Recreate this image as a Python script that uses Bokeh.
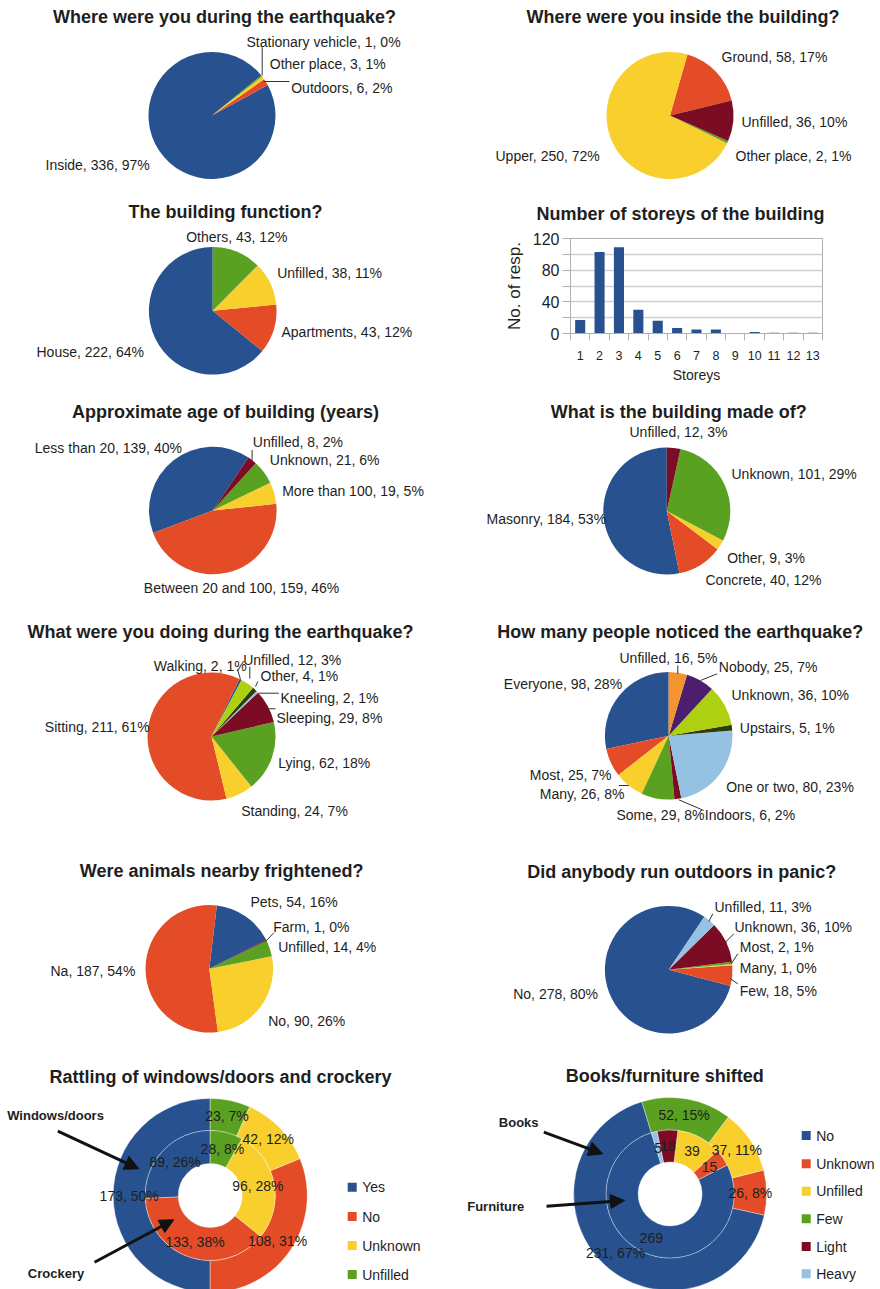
import math
from bokeh.plotting import figure
from bokeh.layouts import column, row
from bokeh.models import Range1d, FixedTicker, Arrow, NormalHead, ColumnDataSource
from bokeh.core.properties import value
from bokeh.embed import file_html
from bokeh.resources import INLINE

# ---------------- DATA ----------------
where_cats = ["Inside", "Outdoors", "Other place", "Stationary vehicle"]
where_vals = [336, 6, 3, 1]

inside_cats = ["Ground", "Upper", "Other place", "Unfilled"]
inside_vals = [58, 250, 2, 36]

function_cats = ["House", "Apartments", "Unfilled", "Others"]
function_vals = [222, 43, 38, 43]

storeys = ["1", "2", "3", "4", "5", "6", "7", "8", "9", "10", "11", "12", "13"]
storey_counts = [17, 103, 109, 30, 16, 7, 5, 5, 0, 2, 1, 1, 1]

age_cats = ["Less than 20", "Between 20 and 100", "More than 100", "Unknown", "Unfilled"]
age_vals = [139, 159, 19, 21, 8]

made_cats = ["Masonry", "Concrete", "Other", "Unknown", "Unfilled"]
made_vals = [184, 40, 9, 101, 12]

doing_cats = ["Walking", "Sitting", "Standing", "Lying", "Sleeping", "Kneeling", "Other", "Unfilled"]
doing_vals = [2, 211, 24, 62, 29, 2, 4, 12]

noticed_cats = ["Everyone", "Most", "Many", "Some", "Indoors", "One or two", "Upstairs", "Unknown", "Nobody", "Unfilled"]
noticed_vals = [98, 25, 26, 29, 6, 80, 5, 36, 25, 16]

animals_cats = ["Pets", "Na", "No", "Unfilled", "Farm"]
animals_vals = [54, 187, 90, 14, 1]

panic_cats = ["No", "Few", "Many", "Most", "Unknown", "Unfilled"]
panic_vals = [278, 18, 1, 2, 36, 11]

rattle_cats = ["Yes", "No", "Unknown", "Unfilled"]
windows_vals = [173, 108, 42, 23]
crockery_vals = [89, 133, 96, 28]

shift_cats = ["No", "Unknown", "Unfilled", "Few", "Light", "Heavy"]
books_vals = [231, 26, 37, 52, 0, 0]
furniture_vals = [269, 15, 39, 0, 18, 5]

# ---------------- STYLE ----------------
BLUE = "#27528f"
RED = "#e34c26"
YELLOW = "#f8cf2d"
GREEN = "#5aa021"
DARKRED = "#7c0c24"
LIGHTBLUE = "#95c1e3"
DARKGREEN = "#2f3d0a"
LIME = "#add011"
PURPLE = "#4c1e6e"
ORANGE = "#f3942f"
PALETTE = [BLUE, RED, YELLOW, GREEN, DARKRED, LIGHTBLUE, DARKGREEN, LIME, PURPLE, ORANGE]
TXT = "#1e1e1e"
FONT = "Liberation Sans"
TITLE_SIZE = "18px"
LABEL_SIZE = "14px"
PW = 440


def pct(v, total):
    return int(v * 100.0 / total + 0.5)


def panel(ox, oy, h, w=PW):
    p = figure(width=w, height=h, x_range=Range1d(ox, ox + w), y_range=Range1d(-(oy + h), -oy),
               x_axis_location=None, y_axis_location=None, output_backend="svg",
               toolbar_location=None, min_border=0)
    p.outline_line_color = None
    p.grid.grid_line_color = None
    p.background_fill_color = "white"
    return p


def add_text(p, xs, ys, texts, size=LABEL_SIZE, align="left", bold=False):
    src = ColumnDataSource(dict(x=list(xs), y=[-y for y in ys], t=list(texts)))
    p.text(x="x", y="y", text="t", source=src, text_align=align, text_baseline="middle",
           text_font=value(FONT), text_font_size=size,
           text_font_style="bold" if bold else "normal", text_color=TXT)


def add_title(p, cx, cy, text):
    add_text(p, [cx], [cy], [text], size=TITLE_SIZE, align="center", bold=True)


def angles(vals, start_deg):
    total = float(sum(vals))
    a = math.radians(start_deg)
    starts, ends = [], []
    for v in vals:
        starts.append(a)
        a += 2 * math.pi * v / total
        ends.append(a)
    return starts, ends


def draw_pie(p, cx, cy, r, vals, colors, start_deg):
    s, e = angles(vals, start_deg)
    keep = [i for i, v in enumerate(vals) if v > 0]
    src = ColumnDataSource(dict(s=[s[i] for i in keep], e=[e[i] for i in keep],
                                c=[colors[i] for i in keep]))
    p.wedge(x=cx, y=-cy, radius=r, start_angle="s", end_angle="e", fill_color="c",
            line_color=None, source=src)


def draw_ring(p, cx, cy, r0, r1, vals, colors, start_deg):
    s, e = angles(vals, start_deg)
    keep = [i for i, v in enumerate(vals) if v > 0]
    src = ColumnDataSource(dict(s=[s[i] for i in keep], e=[e[i] for i in keep],
                                c=[colors[i] for i in keep]))
    p.annular_wedge(x=cx, y=-cy, inner_radius=r0, outer_radius=r1, start_angle="s", end_angle="e",
                    fill_color="c", line_color="white", line_alpha=0.45, line_width=0.8, source=src)


def ring_labels(p, cx, cy, rr, vals, start_deg, texts):
    s, e = angles(vals, start_deg)
    xs, ys, ts = [], [], []
    for i, v in enumerate(vals):
        if v <= 0:
            continue
        m = (s[i] + e[i]) / 2
        xs.append(cx + rr * math.cos(m))
        ys.append(cy - rr * math.sin(m))
        ts.append(texts[i])
    add_text(p, xs, ys, ts, align="center")


def leaders(p, segs):
    if not segs:
        return
    p.segment(x0=[a[0] for a in segs], y0=[-a[1] for a in segs],
              x1=[a[2] for a in segs], y1=[-a[3] for a in segs],
              line_color="#333333", line_width=1)


def pie_panel(p, cats, vals, colors, start, center, r, title, title_pos, label_pos, segs=None):
    add_title(p, title_pos[0], title_pos[1], title)
    draw_pie(p, center[0], center[1], r, vals, colors, start)
    leaders(p, segs)
    total = sum(vals)
    texts = ["%s, %d, %d%%" % (c, v, pct(v, total)) for c, v in zip(cats, vals)]
    add_text(p, [q[0] for q in label_pos], [q[1] for q in label_pos], texts)


# ---------------- LAYOUT (page pixel coordinates) ----------------
ROWS = [(0, 197), (197, 200), (397, 210), (607, 236), (843, 214), (1057, 232)]
LX, RX = 0, 440

# Row 1
p1 = panel(LX, *ROWS[0])
pie_panel(p1, where_cats, where_vals, [BLUE, RED, YELLOW, GREEN], 39, (211.5, 115), 63.5,
          "Where were you during the earthquake?", (224, 16),
          [(45, 164.3), (290.7, 87.3), (269.3, 63.3), (246, 41.7)],
          [(261.7, 46.7, 261.7, 75), (263, 81, 289, 81)])

p2 = panel(RX, *ROWS[0])
pie_panel(p2, inside_cats, inside_vals, [RED, YELLOW, GREEN, DARKRED], 13.7, (669.5, 115), 63.5,
          "Where were you inside the building?", (682.5, 16),
          [(721, 56.7), (495, 155), (735, 155), (741, 121.7)])

# Row 2
p3 = panel(LX, *ROWS[1])
pie_panel(p3, function_cats, function_vals, [BLUE, RED, YELLOW, GREEN], 90, (212.2, 310.3), 63.8,
          "The building function?", (225, 211.7),
          [(36, 351), (281, 331.7), (276.7, 272.3), (185.7, 236.7)])

# bar chart: a title strip above, then the chart itself
TITLE_H = 35
pt = panel(RX, ROWS[1][0], TITLE_H)
add_title(pt, 680, 213, "Number of storeys of the building")

pb = figure(width=PW, height=ROWS[1][1] - TITLE_H, x_range=Range1d(0.5, 13.5), y_range=Range1d(0, 120),
            output_backend="svg", toolbar_location=None,
            min_border_left=130, min_border_right=58, min_border_top=6, min_border_bottom=64)
pb.vbar(x=list(range(1, len(storeys) + 1)), top=storey_counts, width=0.52, fill_color=BLUE, line_color=None)
pb.outline_line_color = "#b0b0b0"
pb.xgrid.grid_line_color = None
pb.ygrid.ticker = FixedTicker(ticks=[0, 20, 40, 60, 80, 100, 120])
pb.ygrid.grid_line_color = "#d0d0d0"
pb.ygrid.grid_line_width = 1.3
pb.xaxis.ticker = FixedTicker(ticks=list(range(1, 14)), minor_ticks=[i + 0.5 for i in range(0, 14)])
pb.xaxis.major_label_overrides = {i + 1: s for i, s in enumerate(storeys)}
pb.yaxis.ticker = FixedTicker(ticks=[0, 40, 80, 120], minor_ticks=[20, 60, 100])
for ax in (pb.xaxis[0], pb.yaxis[0]):
    ax.axis_line_color = "#b0b0b0"
    ax.major_tick_line_color = "#b0b0b0"
    ax.minor_tick_line_color = "#b0b0b0"
    ax.major_label_text_font = FONT
    ax.major_label_text_color = TXT
    ax.axis_label_text_font = FONT
    ax.axis_label_text_font_style = "normal"
    ax.axis_label_text_color = TXT
pb.xaxis.major_tick_out = 0
pb.xaxis.major_tick_in = 0
pb.xaxis.minor_tick_out = 7
pb.xaxis.minor_tick_in = 0
pb.xaxis.major_label_standoff = 10
pb.xaxis.major_label_text_font_size = "12.5px"
pb.xaxis.axis_label = "Storeys"
pb.xaxis.axis_label_text_font_size = "14px"
pb.xaxis.axis_label_standoff = 4
pb.yaxis.major_tick_out = 8
pb.yaxis.major_tick_in = 0
pb.yaxis.minor_tick_out = 8
pb.yaxis.minor_tick_in = 0
pb.yaxis.major_label_standoff = 3
pb.yaxis.major_label_text_font_size = "16px"
pb.yaxis.axis_label = "No. of resp."
pb.yaxis.axis_label_text_font_size = "17px"
pb.yaxis.axis_label_standoff = 6

# Row 3
p5 = panel(LX, *ROWS[2])
pie_panel(p5, age_cats, age_vals, [BLUE, RED, YELLOW, GREEN, DARKRED], 56, (212.3, 510), 63.8,
          "Approximate age of building (years)", (225, 411),
          [(34.3, 447.7), (143.3, 587.7), (281.7, 490), (269.3, 459), (252.3, 441.7)],
          [(251.6, 449.5, 251.6, 460)])

p6 = panel(RX, *ROWS[2])
pie_panel(p6, made_cats, made_vals, [BLUE, RED, YELLOW, GREEN, DARKRED], 90, (666.3, 510.5), 63.5,
          "What is the building made of?", (678.3, 411),
          [(486, 518.3), (705, 579), (726.7, 557.7), (731, 473.3), (629, 431.7)])

# Row 4
p7 = panel(LX, *ROWS[3])
pie_panel(p7, doing_cats, doing_vals, PALETTE[:8], 62, (211, 736), 64,
          "What were you doing during the earthquake?", (220, 631.7),
          [(153.3, 665), (44.3, 726.7), (240.7, 810), (277.7, 762.3), (276, 717.3),
           (280, 697.3), (260, 675.7), (242.7, 659.3)],
          [(237, 669, 240, 679), (249.3, 666, 249.3, 678), (257.3, 681, 255, 686),
           (258.3, 692.7, 278.3, 692.7), (266.7, 708.3, 275, 708.3)])

p8 = panel(RX, *ROWS[3])
pie_panel(p8, noticed_cats, noticed_vals, PALETTE, 90, (668.2, 735.3), 63.8,
          "How many people noticed the earthquake?", (679.7, 631.7),
          [(503.3, 683.3), (529.3, 774.3), (539.3, 793.3), (616, 814), (704.3, 814),
           (725.7, 786.7), (739.3, 727.3), (731, 694.3), (718.3, 666.7), (619, 657.7)],
          [(677.3, 665, 677.3, 673.3), (700, 680, 716.7, 673.3), (618.3, 785, 628.3, 785),
           (678.3, 799.3, 703.3, 810)])

# Row 5
p9 = panel(LX, *ROWS[4])
pie_panel(p9, animals_cats, animals_vals, [BLUE, RED, YELLOW, GREEN, DARKRED], 27, (208.8, 968.3), 63.8,
          "Were animals nearby frightened?", (221.2, 870),
          [(250, 901.7), (50, 970), (267.7, 1020), (277.7, 946.7), (272.7, 926)],
          [(265, 941, 273.3, 932.3)])

p10 = panel(RX, *ROWS[4])
pie_panel(p10, panic_cats, panic_vals, [BLUE, RED, YELLOW, GREEN, DARKRED, LIGHTBLUE], 56, (668.2, 969.2), 63.8,
          "Did anybody run outdoors in panic?", (681.3, 871),
          [(512.7, 993.3), (739.3, 990.7), (739.3, 967.7), (739.3, 946.7), (734, 926.7), (714, 906)],
          [(708.3, 921, 712.3, 913.3), (725, 941.7, 733.3, 933.3), (730.7, 963.3, 737.3, 953.3),
           (730, 978.3, 737.3, 983.3)])


# Row 6: donuts
def donut_panel(p, cats, outer_vals, inner_vals, colors, start, center, radii, title, title_pos,
                outer_texts, inner_texts, legend_x, legend_ys, arrows):
    cx, cy = center
    r_hole, r_mid, r_out = radii
    add_title(p, title_pos[0], title_pos[1], title)
    draw_ring(p, cx, cy, r_mid, r_out, outer_vals, colors, start)
    draw_ring(p, cx, cy, r_hole, r_mid, inner_vals, colors, start)
    ring_labels(p, cx, cy, (r_mid + r_out) / 2, outer_vals, start, outer_texts)
    ring_labels(p, cx, cy, (r_hole + r_mid) / 2, inner_vals, start, inner_texts)
    p.scatter(x=[legend_x] * len(cats), y=[-y for y in legend_ys], marker="square", size=9,
              fill_color=colors[:len(cats)], line_color=None)
    add_text(p, [legend_x + 10] * len(cats), legend_ys, cats)
    for (lbl, lx, ly, x0, y0, x1, y1) in arrows:
        add_text(p, [lx], [ly], [lbl], size="13px", bold=True)
        p.add_layout(Arrow(x_start=x0, y_start=-y0, x_end=x1, y_end=-y1, line_width=3,
                           line_color="#111111",
                           end=NormalHead(size=14, fill_color="#111111", line_color="#111111")))


p11 = panel(LX, *ROWS[5])
tw, tc = sum(windows_vals), sum(crockery_vals)
donut_panel(p11, rattle_cats, windows_vals, crockery_vals, [BLUE, RED, YELLOW, GREEN], 90,
            (209.7, 1195), (32, 65, 97), "Rattling of windows/doors and crockery", (220, 1076),
            ["%d, %d%%" % (v, pct(v, tw)) for v in windows_vals],
            ["%d, %d%%" % (v, pct(v, tc)) for v in crockery_vals],
            351.7, [1186.7, 1216, 1245, 1274],
            [("Windows/doors", 6.7, 1115, 57.3, 1130.7, 138.3, 1168.3),
             ("Crockery", 27.3, 1273.3, 94, 1261.7, 173.3, 1219.3)])

p12 = panel(RX, *ROWS[5])
tb = sum(books_vals)
donut_panel(p12, shift_cats, books_vals, furniture_vals,
            [BLUE, RED, YELLOW, GREEN, DARKRED, LIGHTBLUE], 107,
            (669.6, 1193.5), (32, 64, 96.5), "Books/furniture shifted", (664.2, 1075),
            ["%d, %d%%" % (v, pct(v, tb)) for v in books_vals],
            ["%d" % v for v in furniture_vals],
            805.7, [1135, 1163.3, 1190.7, 1218.3, 1246, 1273.3],
            [("Books", 498.3, 1122.3, 543.3, 1131.7, 602.3, 1153.3),
             ("Furniture", 466.7, 1205.7, 546, 1205.7, 624, 1200)])

right_bar = column(column(pt), column(pb))
pairs = [(p1, p2), (p3, right_bar), (p5, p6), (p7, p8), (p9, p10), (p11, p12)]
layout = column(*[row(column(a), column(b)) for a, b in pairs])

open("out.html", "w").write(file_html(layout, INLINE))
